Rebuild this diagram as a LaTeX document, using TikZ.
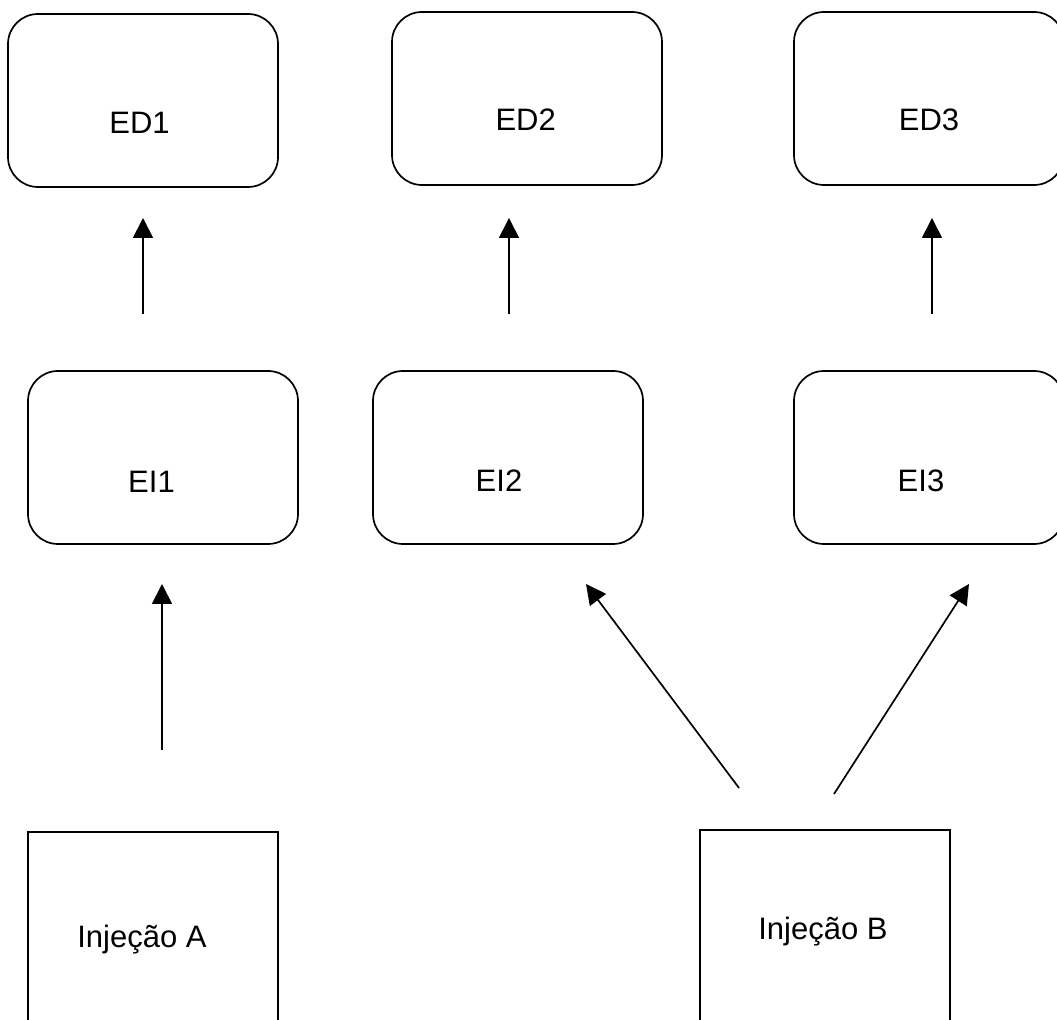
\documentclass[tikz,border=0pt]{standalone}
\usepackage{fontspec}
\setmainfont{Liberation Sans}
\usetikzlibrary{arrows.meta}
\begin{document}
\begin{tikzpicture}[x=0.5pt,y=-0.5pt,
  rbox/.style={draw, line width=0.85pt, rounded corners=15pt, minimum width=135pt, minimum height=86.5pt, inner sep=0pt},
  sbox/.style={draw, line width=0.85pt, minimum width=125pt, minimum height=104pt, inner sep=0pt},
  lab/.style={font=\fontsize{15.5}{18}\selectfont, inner sep=0pt, anchor=base},
  arr/.style={line width=0.85pt, -{Triangle[width=10pt,length=10pt]}}]
\useasboundingbox (0,0) rectangle (1057,1020);
\clip (0,0) rectangle (1057,1020);
% top row
\node[rbox, label={[lab,xshift=-1.75pt,yshift=-11.25pt]center:ED1}] (ed1) at (143,100.5) {};
\node[rbox, label={[lab,xshift=-0.65pt,yshift=-10.5pt]center:ED2}] (ed2) at (527,98.5) {};
\node[rbox, label={[lab,yshift=-10.5pt]center:ED3}] (ed3) at (929,98.5) {};
% middle row
\node[rbox, label={[lab,xshift=-5.75pt,yshift=-12.25pt]center:EI1}] (ei1) at (163,457.5) {};
\node[rbox, label={[lab,xshift=-4.5pt,yshift=-11.75pt]center:EI2}] (ei2) at (508,457.5) {};
\node[rbox, label={[lab,xshift=-4pt,yshift=-11.75pt]center:EI3}] (ei3) at (929,457.5) {};
% bottom row
\node[sbox, label={[lab,xshift=-5.5pt,yshift=-2pt]center:Injeção A}] (inja) at (153,936) {};
\node[sbox, label={[lab,xshift=-1pt,yshift=1pt]center:Injeção B}] (injb) at (825,934) {};
% arrow end points
\coordinate (t1) at (143,314); \coordinate (h1) at (143,218);
\coordinate (t2) at (509,314); \coordinate (h2) at (509,218);
\coordinate (t3) at (932,314); \coordinate (h3) at (932,218);
\coordinate (t4) at (162,750); \coordinate (h4) at (162,584);
\coordinate (t5) at (739,788); \coordinate (h5) at (586,584);
\coordinate (t6) at (834,794); \coordinate (h6) at (969,584);
\draw[arr] (t1) -- (h1);
\draw[arr] (t2) -- (h2);
\draw[arr] (t3) -- (h3);
\draw[arr] (t4) -- (h4);
\draw[arr] (t5) -- (h5);
\draw[arr] (t6) -- (h6);
\end{tikzpicture}
\end{document}
